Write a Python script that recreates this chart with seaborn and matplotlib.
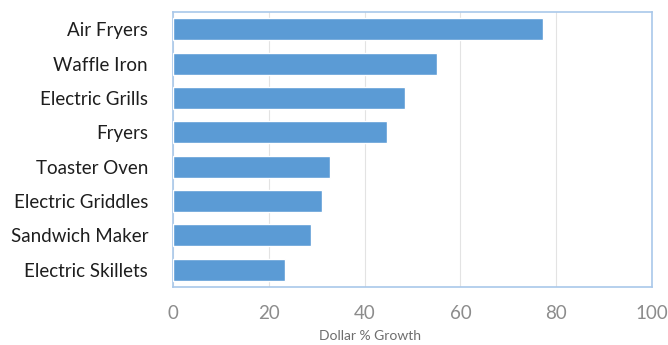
import pandas as pd
import matplotlib
matplotlib.use("Agg")
import matplotlib.pyplot as plt
import seaborn as sns

# data
categories = ['Air Fryers', 'Waffle Iron', 'Electric Grills', 'Fryers',
              'Toaster Oven', 'Electric Griddles', 'Sandwich Maker', 'Electric Skillets']
growth = [77.2, 55.2, 48.5, 44.6, 32.8, 31.2, 28.9, 23.4]
x_ticks = [0, 20, 40, 60, 80, 100]

df = pd.DataFrame({'category': categories, 'growth': growth})

sns.set_style('white')
plt.rcParams['font.family'] = ['Lato', 'DejaVu Sans']

fig = plt.figure(figsize=(6.68, 3.45), dpi=100)
ax = fig.add_axes([0.259, 0.168, 0.717, 0.797])

sns.barplot(data=df, x='growth', y='category', color='#5B9BD5', saturation=1,
            width=0.64, ax=ax, zorder=3)

ax.set_xlim(0, 100)
ax.set_ylim(7.5, -0.5)
ax.set_xticks(x_ticks)
ax.xaxis.grid(True, color='#E3E3E3', linewidth=0.8, zorder=0)
ax.set_axisbelow(True)

for s in ax.spines.values():
    s.set_color('#A9C8EA')
    s.set_linewidth(1.2)

ax.tick_params(axis='x', labelsize=13.5, labelcolor='#8C8C8C', length=0, pad=13)
ax.tick_params(axis='y', labelsize=13.5, labelcolor='#1E1E1E', length=0, pad=18)
ax.set_ylabel('')
ax.set_xlabel('Dollar % Growth', fontsize=10, color='#6E6E6E')
ax.xaxis.set_label_coords(0.412, -0.155)

fig.savefig('out.png', dpi=100)
